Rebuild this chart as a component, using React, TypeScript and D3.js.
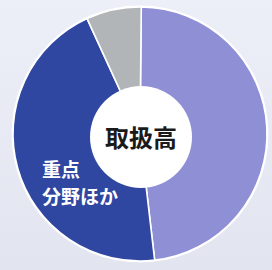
import React from "react";
import * as d3 from "d3";

// shares (percent of 取扱高)
const categories = ["主力分野", "重点分野ほか", "その他"];
const shares = [48, 45, 7];
const colors = ["#8f8fd6", "#2f47a0", "#b2b5b7"];

const centerTitle = "取扱高";
const sliceLabel = ["重点", "分野ほか"];

const W = 272;
const H = 270;

export default function App() {
  const cx = 140;
  const cy = 134;
  const outerR = 127;
  const innerR = 51;

  const pie = d3
    .pie<number>()
    .sort(null)
    .value((d) => d)
    .startAngle(0.01)
    .endAngle(Math.PI * 2 + 0.01);
  const arcs = pie(shares);
  const arc = d3.arc<d3.PieArcDatum<number>>().innerRadius(0).outerRadius(outerR);

  const font = "'Noto Sans CJK JP', 'Noto Sans', sans-serif";

  return (
    <svg
      width={W}
      height={H}
      style={{ position: "fixed", left: 0, top: 0, background: "#e8eaf5" }}
    >
      <defs>
        <linearGradient id="bg" x1="0" y1="0" x2="0" y2="1">
          <stop offset="0" stopColor="#eceef8" />
          <stop offset="1" stopColor="#e2e4ef" />
        </linearGradient>
      </defs>
      <rect width={W} height={H} fill="url(#bg)" />
      <circle cx={cx} cy={cy} r={outerR + 1.5} fill="#ffffff" />
      <g transform={`translate(${cx},${cy})`}>
        {arcs.map((a, i) => (
          <path
            key={categories[i]}
            d={arc(a) || ""}
            fill={colors[i]}
            stroke="#ffffff"
            strokeWidth={1.6}
          />
        ))}
      </g>
      <circle cx={cx + 1} cy={cy + 3} r={innerR} fill="#ffffff" />
      <text
        x={cx + 1}
        y={cy + 2}
        textAnchor="middle"
        dominantBaseline="central"
        fontFamily={font}
        fontWeight={700}
        fontSize={24}
        fill="#1a1a1a"
      >
        {centerTitle}
      </text>
      <text
        fontFamily={font}
        fontWeight={700}
        fontSize={19}
        fill="#ffffff"
      >
        {sliceLabel.map((t, i) => (
          <tspan key={t} x={42} y={177 + i * 27}>
            {t}
          </tspan>
        ))}
      </text>
    </svg>
  );
}
